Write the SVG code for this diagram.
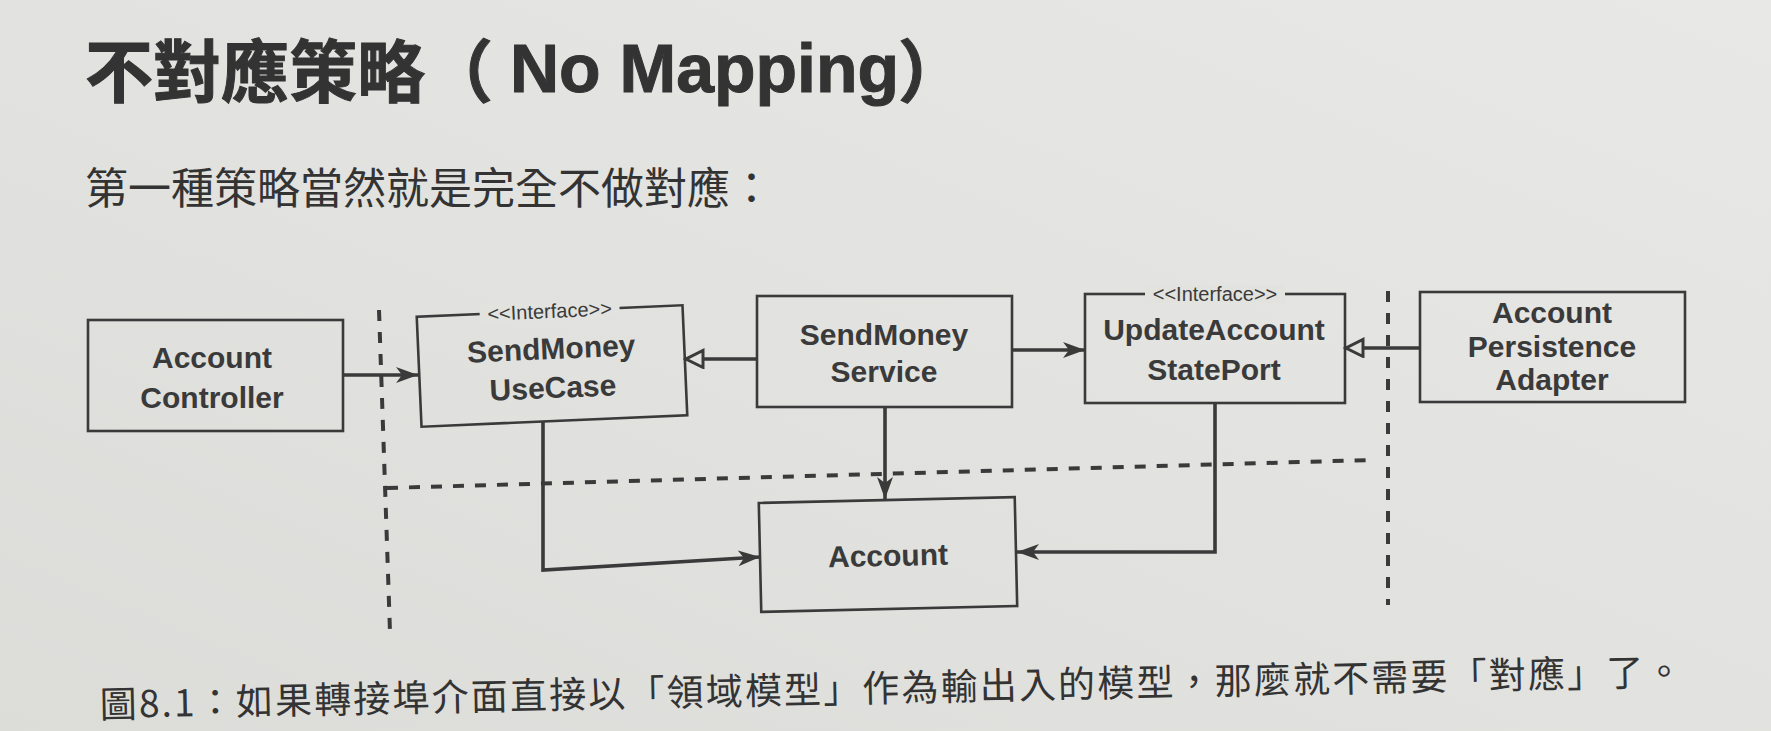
<svg xmlns="http://www.w3.org/2000/svg" width="1771" height="731" viewBox="0 0 1771 731">
  <defs>
    <linearGradient id="paper" x1="1" y1="0" x2="0" y2="1">
      <stop offset="0" stop-color="#e8e8e6"/>
      <stop offset="1" stop-color="#dcdcd9"/>
    </linearGradient>
    <marker id="arrow" markerWidth="24" markerHeight="16" refX="22" refY="8" orient="auto" markerUnits="userSpaceOnUse">
      <path d="M0,0 L22,8 L0,16 L6,8 z" fill="#3a3a3a"/>
    </marker>
    <marker id="tri" markerWidth="22" markerHeight="22" refX="19" refY="10" orient="auto" markerUnits="userSpaceOnUse">
      <path d="M2,1.5 L19,10 L2,18.5 z" fill="#e2e2df" stroke="#3a3a3a" stroke-width="3"/>
    </marker>
    <style>
      .box { fill: none; stroke: #3a3a3a; stroke-width: 2.6; }
      .lbl { font-family: "Liberation Sans", Arial, sans-serif; font-weight: bold; font-size: 30px; fill: #3a3a3a; text-anchor: middle; }
      .stereo { font-family: "Liberation Sans", Arial, sans-serif; font-size: 20px; fill: #3a3a3a; text-anchor: middle; }
      .gap { fill: #e2e2df; }
      .conn { fill: none; stroke: #3a3a3a; stroke-width: 3.6; }
      .bound { fill: none; stroke: #3a3a3a; stroke-width: 4; stroke-dasharray: 11 11; }
      .cjk { font-family: "Noto Sans CJK TC", "Noto Sans CJK SC", sans-serif; fill: #333333; }
    </style>
  </defs>

  <rect x="0" y="0" width="1771" height="731" fill="url(#paper)"/>

  <g id="title">
    <text class="cjk" font-weight="bold" font-size="68" stroke="#333333" stroke-width="1"><tspan x="85" y="97">不對應策略（</tspan><tspan x="510" y="92" font-family="Liberation Sans, Arial, sans-serif" font-size="68">No Mapping</tspan><tspan x="898" y="97">）</tspan></text>
  </g>

  <g id="intro">
    <text class="cjk" x="85" y="204" font-size="43">第一種策略當然就是完全不做對應：</text>
  </g>

  <g id="boundaries">
    <line class="bound" x1="379" y1="310" x2="390" y2="632"/>
    <line class="bound" x1="1388" y1="291" x2="1388" y2="605"/>
    <line class="bound" x1="387" y1="488" x2="1372" y2="460"/>
  </g>

  <g id="AccountController">
    <rect class="box" x="88" y="320" width="255" height="111"/>
    <text class="lbl" x="212" y="368">Account</text>
    <text class="lbl" x="212" y="408">Controller</text>
  </g>

  <g id="SendMoneyUseCase" transform="rotate(-2.5 552 366)">
    <rect class="box" x="419" y="311" width="266" height="110"/>
    <rect class="gap" x="482" y="302" width="140" height="18"/>
    <text class="stereo" x="552" y="318">&lt;&lt;Interface&gt;&gt;</text>
    <text class="lbl" x="552" y="359">SendMoney</text>
    <text class="lbl" x="552" y="398">UseCase</text>
  </g>

  <g id="SendMoneyService">
    <rect class="box" x="757" y="296" width="255" height="111"/>
    <text class="lbl" x="884" y="345">SendMoney</text>
    <text class="lbl" x="884" y="382">Service</text>
  </g>

  <g id="UpdateAccountStatePort">
    <rect class="box" x="1085" y="294" width="260" height="109"/>
    <rect class="gap" x="1145" y="285" width="140" height="18"/>
    <text class="stereo" x="1215" y="301">&lt;&lt;Interface&gt;&gt;</text>
    <text class="lbl" x="1214" y="340">UpdateAccount</text>
    <text class="lbl" x="1214" y="380">StatePort</text>
  </g>

  <g id="AccountPersistenceAdapter">
    <rect class="box" x="1420" y="292" width="265" height="110"/>
    <text class="lbl" x="1552" y="323">Account</text>
    <text class="lbl" x="1552" y="357">Persistence</text>
    <text class="lbl" x="1552" y="390">Adapter</text>
  </g>

  <g id="Account" transform="rotate(-1.3 888 555)">
    <rect class="box" x="760" y="500" width="256" height="109"/>
    <text class="lbl" x="888" y="566">Account</text>
  </g>

  <g id="connectors">
    <line class="conn" x1="343" y1="375" x2="418" y2="375" marker-end="url(#arrow)"/>
    <line class="conn" x1="757" y1="359" x2="686" y2="359" marker-end="url(#tri)"/>
    <line class="conn" x1="1012" y1="350" x2="1085" y2="350" marker-end="url(#arrow)"/>
    <line class="conn" x1="1420" y1="348" x2="1346" y2="348" marker-end="url(#tri)"/>
    <polyline class="conn" points="543,421 543,570 760,557" marker-end="url(#arrow)"/>
    <line class="conn" x1="885" y1="407" x2="885" y2="499" marker-end="url(#arrow)"/>
    <polyline class="conn" points="1215,403 1215,552 1017,552" marker-end="url(#arrow)"/>
  </g>

  <g id="caption">
    <text class="cjk" x="100" y="718" font-size="37" textLength="1583" lengthAdjust="spacing" transform="rotate(-1.2 100 718)">圖8.1：如果轉接埠介面直接以「領域模型」作為輸出入的模型，那麼就不需要「對應」了。</text>
  </g>
</svg>
